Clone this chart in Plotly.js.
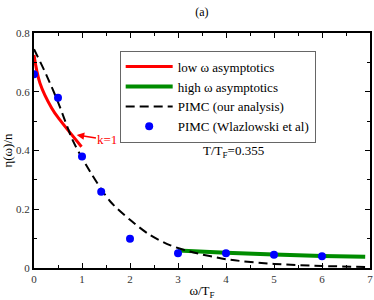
<!DOCTYPE html>
<html><head><meta charset="utf-8">
<script src="https://cdn.plot.ly/plotly-3.0.1.min.js"></script>
<style>html,body{margin:0;padding:0;background:#fff}#plot{width:374px;height:300px}</style>
</head><body><div id="plot"></div>
<script>
// Data
const lowX = [0, 0.125, 0.37, 0.54, 0.99];
const lowY = [0.725, 0.629, 0.544, 0.504, 0.413];
const highX = [3.0, 4.0, 5.0, 6.0, 6.9];
const highY = [0.060, 0.052, 0.046, 0.041, 0.038];
const pimcX = [0, 0.25, 0.5, 0.82, 1.17, 1.58, 2.0, 2.42, 2.83, 3.25, 4.0, 5.0, 6.0, 7.0];
const pimcY = [0.745, 0.66, 0.565, 0.43, 0.328, 0.228, 0.164, 0.112, 0.078, 0.056, 0.030, 0.014, 0.007, 0.003];
const wlazX = [0, 0.5, 1.0, 1.4, 2.0, 3.0, 4.0, 5.0, 6.0];
const wlazY = [0.66, 0.58, 0.38, 0.26, 0.10, 0.05, 0.05, 0.045, 0.04];
const xTicks = [0, 1, 2, 3, 4, 5, 6, 7];
const yTicks = [0, 0.2, 0.4, 0.6, 0.8];
const yTickText = ['0', '0.2', '0.4', '0.6', '0.8'];

const FONT = 'Liberation Serif, Times New Roman, serif';

const traces = [
  {x: lowX, y: lowY, mode: 'lines', name: 'low ω asymptotics',
   line: {color: '#ff0000', width: 3, shape: 'spline'}},
  {x: highX, y: highY, mode: 'lines', name: 'high ω asymptotics',
   line: {color: '#008c00', width: 4, shape: 'spline'}},
  {x: pimcX, y: pimcY, mode: 'lines', name: 'PIMC (our analysis)',
   line: {color: '#000000', width: 2, dash: '9px,5px', shape: 'spline', smoothing: 0.8}},
  {x: wlazX, y: wlazY, mode: 'markers', name: 'PIMC (Wlazlowski et al)',
   marker: {color: '#0000ff', size: 8}}
];

const axisCommon = {
  showline: true, linecolor: '#000', linewidth: 2, mirror: 'allticks',
  ticks: 'inside', ticklen: 5, tickwidth: 1, tickcolor: '#000',
  showgrid: false, zeroline: false,
  tickfont: {family: FONT, size: 11, color: '#333'}
};

const layout = {
  width: 374, height: 300,
  margin: {l: 34, r: 4, t: 33, b: 32},
  paper_bgcolor: '#fff', plot_bgcolor: '#fff',
  font: {family: FONT, color: '#000'},
  title: {text: '(a)', font: {family: FONT, size: 12, color: '#000'}, x: 0.54, xanchor: 'center', y: 0.96, yanchor: 'middle'},
  xaxis: Object.assign({}, axisCommon, {
    range: [0, 7], tickvals: xTicks, ticktext: xTicks.map(String),
    minor: {dtick: 0.5, tick0: 0, ticks: 'inside', ticklen: 3, tickcolor: '#000'},
    title: {text: 'ω/T<sub>F</sub>', font: {family: FONT, size: 13, color: '#000'}, standoff: 4}
  }),
  yaxis: Object.assign({}, axisCommon, {
    range: [0, 0.8], tickvals: yTicks, ticktext: yTickText,
    minor: {dtick: 0.1, tick0: 0, ticks: 'inside', ticklen: 3, tickcolor: '#000'},
    title: {text: 'η(ω)/n', font: {family: FONT, size: 13, color: '#000'}, standoff: 2}
  }),
  legend: {
    x: 0.255, y: 0.925, xanchor: 'left', yanchor: 'top',
    bordercolor: '#666', borderwidth: 1, bgcolor: '#fff',
    font: {family: FONT, size: 13, color: '#000'},
    itemwidth: 47, tracegroupgap: 0
  },
  showlegend: true,
  annotations: [
    {x: 0.89, y: 0.453, xref: 'x', yref: 'y', ax: 1.53, ay: 0.436, axref: 'x', ayref: 'y',
     text: 'k=1', showarrow: true, arrowhead: 2, arrowsize: 1, arrowwidth: 1.5, arrowcolor: '#ff0000',
     font: {family: FONT, size: 13, color: '#ff0000'}},
    {x: 4.15, y: 0.395, xref: 'x', yref: 'y', text: 'T/T<sub>F</sub>=0.355', showarrow: false,
     font: {family: FONT, size: 13, color: '#000'}}
  ]
};

Plotly.newPlot('plot', traces, layout, {staticPlot: true, displayModeBar: false});
</script>
</body></html>
